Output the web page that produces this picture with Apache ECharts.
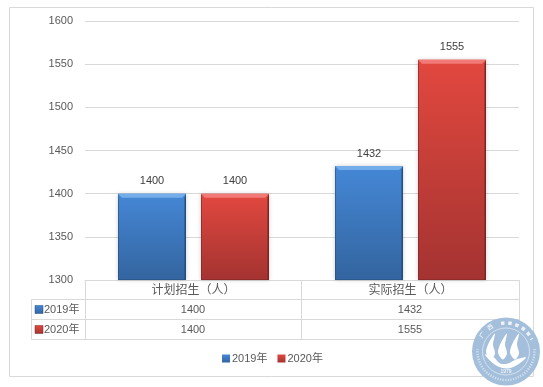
<!DOCTYPE html>
<html><head><meta charset="utf-8">
<style>html,body{margin:0;padding:0;background:#fff}#c{width:543px;height:387px}</style>
<script src="https://cdn.jsdelivr.net/npm/echarts@6/dist/echarts.min.js"></script></head>
<body><div id="c"></div>
<script>
const categories = ['计划招生（人）', '实际招生（人）'];
const seriesNames = ['2019年', '2020年'];
const values2019 = [1400, 1432];
const values2020 = [1400, 1555];
const axisMin = 1300, axisMax = 1600, axisStep = 50;

const FONT = '"Liberation Sans", Arial, "Noto Sans CJK SC", sans-serif';
const TXT = '#595959', LINE = '#d9d9d9';
const L = 85, R = 519, T = 21, B = 280;
const palette = [
  {top:'#4587d6', bottom:'#33659f', edge:'#234d7d', hi:'#74aeea', key:'#3a74b8'},
  {top:'#e2483f', bottom:'#a43331', edge:'#7a2524', hi:'#f27a76', key:'#c23c3a'}
];
const grad = (a,b)=>new echarts.graphic.LinearGradient(0,0,0,1,[{offset:0,color:a},{offset:1,color:b}]);

const chart = echarts.init(document.getElementById('c'), null, {renderer:'canvas'});
const BW = 68, GAP = 15;

function barSeries(name, data, p){
  return {name, type:'bar', data, barWidth:BW, barGap:(GAP/BW*100)+'%', z:3,
    itemStyle:{color:grad(p.top,p.bottom), borderWidth:0, shadowBlur:4, shadowColor:'rgba(0,0,0,0.2)'},
    label:{show:true, position:'top', distance:7, color:'#404040', fontSize:11, fontFamily:FONT},
    emphasis:{disabled:true}};
}
function bevelSeries(data, p, side){
  return {type:'custom', silent:true, z:4, legendHoverLink:false, tooltip:{show:false},
    data: data.map((v,i)=>[i,v]), encode:{x:0,y:1},
    renderItem(params, api){
      const base = api.coord([api.value(0), axisMin]);
      const tip = api.coord([api.value(0), api.value(1)]);
      const x0 = base[0] + side*(BW+GAP)/2 - BW/2, x1 = x0 + BW, y0 = tip[1], y1 = base[1];
      const b = 4;
      return {type:'group', children:[
        {type:'polygon', shape:{points:[[x0,y0],[x1,y0],[x1-b,y0+b],[x0+b,y0+b]]}, style:{fill:p.hi}},
        {type:'polygon', shape:{points:[[x0,y0],[x0+1,y0+b],[x0+1,y1],[x0,y1]]}, style:{fill:p.edge, opacity:.6}},
        {type:'polygon', shape:{points:[[x1,y0],[x1-1.5,y0+b],[x1-1.5,y1],[x1,y1]]}, style:{fill:p.edge}},
        {type:'rect', shape:{x:x0,y:y1-1,width:BW,height:1}, style:{fill:p.edge, opacity:.5}}
      ]};
    }};
}

// Data table + frame, drawn from the named arrays
const g = [];
const ln = (x1,y1,x2,y2,c)=>g.push({type:'line',silent:true,z:1,shape:{x1,y1,x2,y2},style:{stroke:c||LINE,lineWidth:1}});
const tx = (x,y,text,align,fs,c)=>g.push({type:'text',silent:true,z:5,x,y,style:{text,fontSize:fs||11,fill:c||TXT,fontFamily:FONT,align:align||'center',verticalAlign:'middle'}});
g.push({type:'rect',silent:true,z:0,shape:{x:9.5,y:7.5,width:524,height:369},style:{fill:'#fff',stroke:LINE,lineWidth:1}});
const rows=[280.5,299.5,319.5,339.5];
ln(L+.5,rows[0],R+.5,rows[0]); ln(31.5,rows[1],R+.5,rows[1]); ln(31.5,rows[2],R+.5,rows[2]); ln(31.5,rows[3],R+.5,rows[3]);
ln(31.5,rows[1],31.5,rows[3]); ln(L+.5,rows[0],L+.5,rows[3]); ln(301.5,rows[0],301.5,rows[3]); ln(R+.5,rows[0],R+.5,rows[3]);
[values2019,values2020].forEach((vals,r)=>{
  const y=(rows[r+1]+rows[r+2])/2;
  g.push({type:'rect',silent:true,z:5,shape:{x:35,y:y-4,width:8,height:8},style:{fill:grad(palette[r].top,palette[r].bottom),stroke:palette[r].edge,lineWidth:.5}});
  tx(44,y,seriesNames[r],'left',11);
  vals.forEach((v,i)=>tx(i?410:193,y,String(v),'center',11));
});

// Seal watermark
const sx=506, sy=351.5, SEAL='#a4bfdb';
const poly=(pts,smooth)=>g.push({type:'polygon',silent:true,z:7,shape:{points:pts.map(([a,b])=>[sx+a,sy+b]),smooth:smooth||0},style:{fill:'#fff'}});
g.push({type:'circle',silent:true,z:6,shape:{cx:sx,cy:sy,r:34},style:{fill:SEAL}});
g.push({type:'circle',silent:true,z:6,shape:{cx:sx,cy:sy,r:23.5},style:{fill:'none',stroke:'#dfe9f3',lineWidth:.8}});
[-12,0,12].forEach(dx=>{
  poly([[dx+1,-18],[dx-5,-9],[dx-8,1],[dx-3,8],[dx+1,2],[dx-1,-7]],0.3);
});
poly([[-21,3],[-12,6],[-6,12],[2,12],[10,8],[20,6],[12,13],[2,17],[-8,15],[-15,10]],0.3);
tx(sx,sy+20,'1979','center',5,'#fff'); g[g.length-1].z=7;
['广','西'].forEach((ch,i)=>{
  const a=(-145+i*22)*Math.PI/180;
  tx(sx+Math.cos(a)*28.5,sy+Math.sin(a)*28.5,ch,'center',6,'#fff'); g[g.length-1].z=7; g[g.length-1].rotation=-(a+Math.PI/2);
});
// illegible lettering on the ring: short dashes
g.push({type:'arc',silent:true,z:7,shape:{cx:sx,cy:sy,r:28.5,startAngle:-100*Math.PI/180,endAngle:-25*Math.PI/180},style:{stroke:'#fff',lineWidth:3.5,fill:'none',lineDash:[3.5,3.7],opacity:.8}});
g.push({type:'arc',silent:true,z:7,shape:{cx:sx,cy:sy,r:28.5,startAngle:-5*Math.PI/180,endAngle:185*Math.PI/180},style:{stroke:'#e6eef6',lineWidth:2.5,fill:'none',lineDash:[1.2,1.4],opacity:.7}});

chart.setOption({
  animation:false,
  backgroundColor:'#fff',
  color:[palette[0].key,palette[1].key],
  grid:{left:L,right:543-R,top:T,bottom:387-B,containLabel:false},
  legend:{data:seriesNames,bottom:23,left:222,itemWidth:8,itemHeight:8,itemGap:10,icon:'rect',padding:0,
    textStyle:{color:TXT,fontSize:11,fontFamily:FONT,padding:[0,0,0,-3]}},
  xAxis:{type:'category',data:categories,
    axisLine:{lineStyle:{color:LINE}},axisTick:{show:false},
    axisLabel:{color:TXT,fontSize:12,fontFamily:FONT,margin:2,lineHeight:18}},
  yAxis:{type:'value',min:axisMin,max:axisMax,interval:axisStep,
    axisLine:{show:false},axisTick:{show:false},
    splitLine:{lineStyle:{color:LINE,width:1}},
    axisLabel:{color:TXT,fontSize:11,fontFamily:FONT,margin:12,formatter:v=>String(v)}},
  series:[
    barSeries(seriesNames[0],values2019,palette[0]),
    barSeries(seriesNames[1],values2020,palette[1]),
    bevelSeries(values2019,palette[0],-1),
    bevelSeries(values2020,palette[1],1)
  ],
  graphic:{elements:g}
});
</script></body></html>
